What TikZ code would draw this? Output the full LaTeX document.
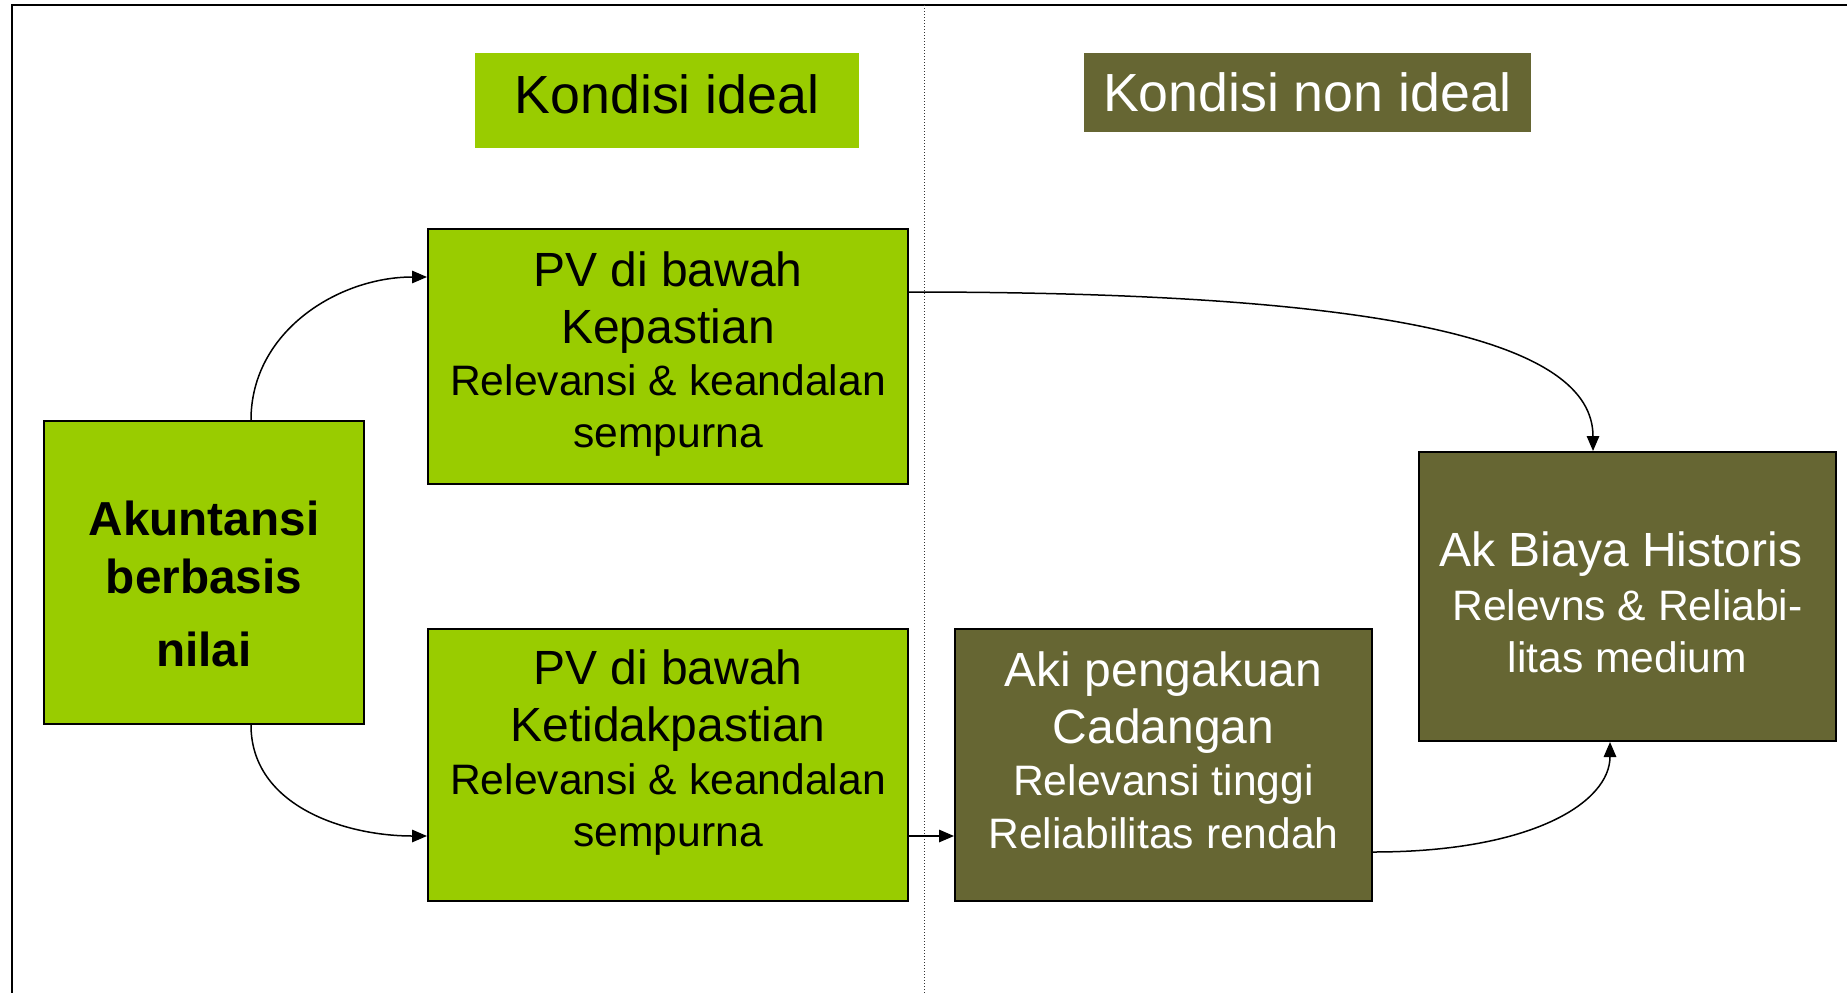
\documentclass[tikz,border=0pt]{standalone}
\usepackage{fontspec}
\setmainfont{Liberation Sans}
\usetikzlibrary{arrows.meta}
\definecolor{lgreen}{HTML}{99CC00}
\definecolor{olive}{HTML}{666633}
\newcommand{\bigln}{\fontsize{48}{57}\selectfont}
\newcommand{\smlln}{\fontsize{42.6}{53}\selectfont}
\begin{document}
\begin{tikzpicture}[x=1pt,y=-1pt,
  titlebox/.style={rectangle, inner sep=0pt, text depth=12pt, font=\fontsize{53.7}{60}\selectfont},
  gbox/.style={rectangle, draw=black, line width=2pt, fill=lgreen, inner sep=0pt},
  obox/.style={rectangle, draw=black, line width=2pt, fill=olive, inner sep=0pt},
  gtxt/.style={inner sep=0pt, align=center, text=black, font=\fontsize{48}{57}\selectfont},
  otxt/.style={inner sep=0pt, align=center, text=white, font=\fontsize{48}{57}\selectfont},
  arr/.style={line width=1.5pt, -{Triangle[length=15pt,width=12.5pt]}}]
\useasboundingbox (0,0) rectangle (1847,993);
\fill[white] (0,0) rectangle (1847,993);
% frame
\draw[line width=2.5pt] (12,993) -- (12,5) -- (1847,5);
% dotted divider
\coordinate (dtop) at (924,5);
\coordinate (dbot) at (924,993);
\draw[line width=1pt, dotted, black!80] (dtop) -- (dbot);
% titles
\node[titlebox, fill=lgreen, text=black, minimum width=384pt, minimum height=95pt] (kideal) at (667,100.5) {Kondisi ideal};
\node[titlebox, fill=olive, text=white, minimum width=447pt, minimum height=79pt, text depth=0pt] (knon) at (1307.5,92.5) {Kondisi non ideal};
% boxes
\node[gbox, minimum width=480pt, minimum height=255pt] (pv1) at (668,356.5) {};
\node[gtxt] (pv1t) at ([yshift=2.5pt]pv1.center)
  {\bigln PV di bawah\\ \bigln Kepastian\\[-4.5pt] \smlln Relevansi \& keandalan\\[-5pt] \smlln sempurna};
\node[gbox, minimum width=320pt, minimum height=303pt] (ak) at (204,572.5) {};
\node[gtxt, font=\bfseries\fontsize{47.7}{58}\selectfont] (akt) at ([yshift=-11pt]ak.center)
  {Akuntansi\\ berbasis\\[15pt] nilai};
\node[gbox, minimum width=480pt, minimum height=272pt] (pv2) at (668,765) {};
\node[gtxt] (pv2t) at ([yshift=12pt]pv2.center)
  {\bigln PV di bawah\\ \bigln Ketidakpastian\\[-4.5pt] \smlln Relevansi \& keandalan\\[-4.5pt] \smlln sempurna};
\node[obox, minimum width=417pt, minimum height=272pt] (aki) at (1163.5,765) {};
\node[otxt] (akit) at ([yshift=15pt]aki.center)
  {\bigln Aki pengakuan\\ \bigln Cadangan\\[-4.5pt] \smlln Relevansi tinggi\\[-4.5pt] \smlln Reliabilitas rendah};
\node[obox, minimum width=417pt, minimum height=289pt] (hist) at (1627.5,596.5) {};
\node[otxt] (histt) at ([yshift=-6pt]hist.center)
  {\bigln Ak Biaya Historis\kern13pt\\[-3pt] \smlln Relevns \& Reliabi-\\[-5pt] \smlln litas medium};
% connectors
\draw[arr] ([xshift=47pt]ak.north) to[out=90,in=180] ([yshift=79.5pt]pv1.west);
\draw[arr] ([xshift=47pt]ak.south) to[out=-90,in=180] ([yshift=-71pt]pv2.west);
\draw[arr] ([yshift=64.5pt]pv1.east) .. controls +(480,0) and +(0,-110) .. ([xshift=-34.5pt]hist.north);
\draw[arr] ([yshift=-71pt]pv2.east) -- ([yshift=-71pt]aki.west);
\draw[arr] ([yshift=-87pt]aki.east) .. controls +(160,0) and +(0,60) .. ([xshift=-17.5pt]hist.south);
\end{tikzpicture}
\end{document}
